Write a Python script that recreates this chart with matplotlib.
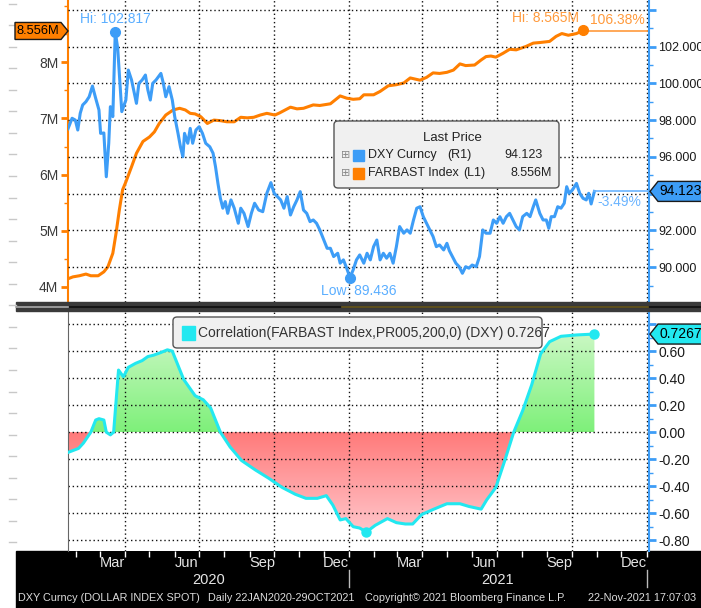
import numpy as np
import pandas as pd
import matplotlib
matplotlib.use('Agg')
import matplotlib.pyplot as plt
import matplotlib.dates as mdates
from matplotlib import font_manager as fm
from matplotlib.colors import LinearSegmentedColormap
from matplotlib.lines import Line2D
from matplotlib.patches import Polygon, Rectangle, FancyBboxPatch
from matplotlib.path import Path
from matplotlib.ticker import MultipleLocator

# values
dxy = [('2020-01-22', 97.53), ('2020-01-27', 98.10), ('2020-01-31', 98.00), ('2020-02-03', 97.46),
       ('2020-02-06', 98.37), ('2020-02-09', 98.82), ('2020-02-13', 99.00), ('2020-02-17', 99.27),
       ('2020-02-21', 99.85), ('2020-02-25', 99.18), ('2020-02-29', 98.55), ('2020-03-02', 97.28),
       ('2020-03-06', 97.30), ('2020-03-09', 94.92), ('2020-03-12', 96.74), ('2020-03-14', 98.73),
       ('2020-03-17', 98.19), ('2020-03-20', 102.817), ('2020-03-23', 101.9), ('2020-03-28', 98.46),
       ('2020-04-02', 99.09), ('2020-04-05', 100.72), ('2020-04-09', 100.18), ('2020-04-15', 98.91),
       ('2020-04-18', 100.00), ('2020-04-22', 100.18), ('2020-04-26', 100.45), ('2020-04-29', 99.64),
       ('2020-05-02', 99.09), ('2020-05-05', 100.00), ('2020-05-09', 100.18), ('2020-05-12', 100.36),
       ('2020-05-15', 100.54), ('2020-05-18', 100.00), ('2020-05-21', 99.27), ('2020-05-25', 99.82),
       ('2020-05-29', 99.09), ('2020-06-01', 98.18), ('2020-06-05', 97.28), ('2020-06-08', 96.55),
       ('2020-06-11', 96.01), ('2020-06-13', 97.28), ('2020-06-17', 96.74), ('2020-06-20', 97.55),
       ('2020-06-23', 96.74), ('2020-06-27', 97.46), ('2020-07-01', 97.64), ('2020-07-05', 97.28),
       ('2020-07-09', 96.74), ('2020-07-14', 96.55), ('2020-07-18', 96.20), ('2020-07-21', 95.47),
       ('2020-07-24', 94.56), ('2020-07-27', 93.75), ('2020-07-30', 93.21), ('2020-08-02', 93.57),
       ('2020-08-05', 92.93), ('2020-08-09', 93.66), ('2020-08-13', 93.21), ('2020-08-18', 92.39),
       ('2020-08-21', 93.21), ('2020-08-25', 92.93), ('2020-08-30', 92.21), ('2020-09-03', 92.93),
       ('2020-09-07', 93.48), ('2020-09-12', 93.11), ('2020-09-17', 93.02), ('2020-09-22', 94.02),
       ('2020-09-27', 94.60), ('2020-10-01', 94.02), ('2020-10-05', 93.84), ('2020-10-09', 93.66),
       ('2020-10-13', 93.21), ('2020-10-17', 93.84), ('2020-10-21', 92.84), ('2020-10-25', 93.29),
       ('2020-10-29', 93.66), ('2020-11-02', 94.11), ('2020-11-06', 93.11), ('2020-11-10', 92.93),
       ('2020-11-14', 92.48), ('2020-11-18', 92.57), ('2020-11-22', 92.39), ('2020-11-26', 92.03),
       ('2020-12-01', 91.48), ('2020-12-05', 91.03), ('2020-12-09', 91.03), ('2020-12-13', 90.58),
       ('2020-12-18', 90.76), ('2020-12-21', 90.22), ('2020-12-25', 90.40), ('2020-12-29', 89.95),
       ('2021-01-02', 89.436), ('2021-01-06', 89.86), ('2021-01-10', 90.40), ('2021-01-14', 90.67),
       ('2021-01-19', 90.22), ('2021-01-23', 90.76), ('2021-01-27', 90.40), ('2021-01-31', 91.12),
       ('2021-02-04', 91.48), ('2021-02-08', 90.40), ('2021-02-12', 90.76), ('2021-02-16', 90.49),
       ('2021-02-20', 90.76), ('2021-02-24', 90.22), ('2021-02-28', 91.12), ('2021-03-04', 92.21),
       ('2021-03-09', 91.85), ('2021-03-13', 92.03), ('2021-03-17', 91.85), ('2021-03-21', 92.57),
       ('2021-03-25', 93.21), ('2021-03-29', 93.29), ('2021-04-02', 92.75), ('2021-04-06', 92.39),
       ('2021-04-10', 92.03), ('2021-04-14', 91.67), ('2021-04-18', 91.12), ('2021-04-22', 91.21),
       ('2021-04-27', 90.94), ('2021-05-01', 91.30), ('2021-05-04', 90.90), ('2021-05-12', 90.22),
       ('2021-05-16', 90.03), ('2021-05-20', 89.67), ('2021-05-24', 90.03), ('2021-05-28', 89.95),
       ('2021-06-01', 90.12), ('2021-06-06', 90.03), ('2021-06-10', 90.58), ('2021-06-14', 92.03),
       ('2021-06-18', 91.85), ('2021-06-23', 91.85), ('2021-06-27', 92.57), ('2021-07-01', 92.39),
       ('2021-07-05', 92.75), ('2021-07-09', 92.39), ('2021-07-13', 92.75), ('2021-07-17', 92.93),
       ('2021-07-21', 92.57), ('2021-07-25', 92.21), ('2021-07-29', 92.03), ('2021-08-02', 92.75),
       ('2021-08-07', 92.93), ('2021-08-11', 92.75), ('2021-08-15', 93.29), ('2021-08-18', 93.66),
       ('2021-08-23', 92.93), ('2021-08-27', 92.57), ('2021-08-31', 92.57), ('2021-09-03', 92.12),
       ('2021-09-06', 92.75), ('2021-09-10', 92.75), ('2021-09-14', 93.29), ('2021-09-18', 93.21),
       ('2021-09-22', 93.48), ('2021-09-25', 94.38), ('2021-09-28', 94.02), ('2021-10-02', 94.20),
       ('2021-10-07', 94.56), ('2021-10-11', 94.02), ('2021-10-15', 93.75), ('2021-10-19', 93.66),
       ('2021-10-22', 94.02), ('2021-10-25', 93.44), ('2021-10-29', 94.123)]

# FARBAST Index, millions
farbast = [('2020-01-22', 4.1458), ('2020-01-28', 4.18), ('2020-02-05', 4.20), ('2020-02-13', 4.23),
           ('2020-02-19', 4.20), ('2020-02-28', 4.20), ('2020-03-06', 4.27), ('2020-03-11', 4.36),
           ('2020-03-17', 4.60), ('2020-03-21', 4.96), ('2020-03-25', 5.37), ('2020-03-29', 5.73),
           ('2020-04-02', 5.87), ('2020-04-09', 6.14), ('2020-04-15', 6.38), ('2020-04-23', 6.59),
           ('2020-05-01', 6.67), ('2020-05-07', 6.76), ('2020-05-13', 6.91), ('2020-05-21', 7.06),
           ('2020-05-30', 7.15), ('2020-06-07', 7.18), ('2020-06-14', 7.15), ('2020-06-20', 7.09),
           ('2020-06-26', 7.08), ('2020-07-03', 7.03), ('2020-07-11', 6.91), ('2020-07-19', 6.97),
           ('2020-07-27', 6.96), ('2020-08-04', 6.94), ('2020-08-13', 6.94), ('2020-08-21', 7.02),
           ('2020-08-29', 7.01), ('2020-09-06', 7.02), ('2020-09-14', 7.06), ('2020-09-22', 7.09),
           ('2020-10-02', 7.06), ('2020-10-08', 7.10), ('2020-10-21', 7.20), ('2020-10-29', 7.17),
           ('2020-11-06', 7.18), ('2020-11-18', 7.24), ('2020-11-26', 7.23), ('2020-12-09', 7.26),
           ('2020-12-21', 7.40), ('2020-12-29', 7.36), ('2021-01-06', 7.34), ('2021-01-14', 7.35),
           ('2021-01-19', 7.42), ('2021-01-31', 7.42), ('2021-02-08', 7.48), ('2021-02-18', 7.58),
           ('2021-02-28', 7.60), ('2021-03-09', 7.63), ('2021-03-17', 7.72), ('2021-03-29', 7.68),
           ('2021-04-06', 7.73), ('2021-04-14', 7.81), ('2021-04-22', 7.80), ('2021-05-01', 7.82),
           ('2021-05-09', 7.86), ('2021-05-17', 7.97), ('2021-05-24', 7.94), ('2021-06-04', 7.95),
           ('2021-06-12', 8.04), ('2021-06-18', 8.10), ('2021-06-24', 8.11), ('2021-06-30', 8.09),
           ('2021-07-09', 8.16), ('2021-07-17', 8.23), ('2021-07-25', 8.22), ('2021-08-06', 8.28),
           ('2021-08-15', 8.34), ('2021-08-23', 8.35), ('2021-09-04', 8.37), ('2021-09-12', 8.46),
           ('2021-09-19', 8.51), ('2021-09-27', 8.48), ('2021-10-07', 8.51), ('2021-10-15', 8.565),
           ('2021-10-19', 8.556)]

corr = [('2020-01-22', -0.15), ('2020-02-04', -0.12), ('2020-02-10', -0.08), ('2020-02-19', 0.00),
        ('2020-02-25', 0.09), ('2020-02-29', 0.10), ('2020-03-06', 0.09), ('2020-03-09', 0.00),
        ('2020-03-14', -0.02), ('2020-03-18', 0.00), ('2020-03-24', 0.46), ('2020-03-30', 0.41),
        ('2020-04-05', 0.48), ('2020-04-14', 0.51), ('2020-04-22', 0.53), ('2020-04-29', 0.56),
        ('2020-05-06', 0.57), ('2020-05-15', 0.59), ('2020-05-23', 0.61), ('2020-05-29', 0.60),
        ('2020-06-04', 0.51), ('2020-06-12', 0.39), ('2020-06-26', 0.27), ('2020-07-06', 0.24),
        ('2020-07-15', 0.18), ('2020-07-21', 0.09), ('2020-07-27', 0.00), ('2020-08-08', -0.11),
        ('2020-08-22', -0.21), ('2020-09-08', -0.28), ('2020-09-24', -0.34), ('2020-10-11', -0.41),
        ('2020-10-27', -0.46), ('2020-11-09', -0.49), ('2020-11-23', -0.49), ('2020-12-04', -0.47),
        ('2020-12-12', -0.54), ('2020-12-21', -0.65), ('2020-12-28', -0.64), ('2021-01-06', -0.70),
        ('2021-01-14', -0.71), ('2021-01-22', -0.74), ('2021-02-02', -0.69), ('2021-02-17', -0.64),
        ('2021-02-28', -0.67), ('2021-03-11', -0.68), ('2021-03-20', -0.68), ('2021-03-31', -0.61),
        ('2021-04-15', -0.57), ('2021-05-01', -0.53), ('2021-05-17', -0.53), ('2021-05-28', -0.55),
        ('2021-06-12', -0.57), ('2021-06-19', -0.50), ('2021-06-30', -0.41), ('2021-07-11', -0.21),
        ('2021-07-22', 0.00), ('2021-08-02', 0.16), ('2021-08-13', 0.35), ('2021-08-24', 0.58),
        ('2021-09-04', 0.67), ('2021-09-18', 0.71), ('2021-10-07', 0.72), ('2021-10-29', 0.7267)]

dxy_ticks = [90, 92, 94, 96, 98, 100, 102, 104]
far_ticks = [4, 5, 6, 7, 8]
corr_ticks = [-0.8, -0.6, -0.4, -0.2, 0.0, 0.2, 0.4, 0.6, 0.8]
x_range = ('2020-01-22', '2022-01-04')
footer = [(18, 'DXY Curncy (DOLLAR INDEX SPOT)'), (208, 'Daily 22JAN2020-29OCT2021'),
          (365, 'Copyright\u00a9 2021 Bloomberg Finance L.P.'), (588, '22-Nov-2021 17:07:03')]

BLUE = '#3d9df7'
ORANGE = '#ff7f00'
CYAN = '#22e8f0'

names = {f.name for f in fm.fontManager.ttflist}
font = next((f for f in ['Liberation Sans Narrow', 'Liberation Sans', 'Open Sans'] if f in names), 'DejaVu Sans')
plt.rcParams['font.family'] = [font, 'DejaVu Sans']

W, H = 701, 608
fig = plt.figure(figsize=(W / 100, H / 100), dpi=100)


def fbox(x0, y0, x1, y1):
    return [x0 / W, 1 - y1 / H, (x1 - x0) / W, (y1 - y0) / H]


def fp(x, y):
    return (x / W, 1 - y / H)


def py_of(ax, v):
    return H - ax.transData.transform((ax.get_xlim()[0], v))[1] * H / fig.bbox.height


def series(pairs):
    d = mdates.date2num(pd.to_datetime([p[0] for p in pairs]))
    return d, np.array([p[1] for p in pairs])


dx, dv = series(dxy)
fx_, fv = series(farbast)
cx, cv = series(corr)
x0, x1 = mdates.date2num(pd.to_datetime(list(x_range)))
quarters = mdates.date2num(pd.date_range('2020-04-01', '2022-01-01', freq='QS'))
grid_kw = dict(color='#111111', linestyle=(0, (1, 2)), linewidth=1)

# ---------------- top panel ----------------
ax1 = fig.add_axes(fbox(68, 0, 649, 302))
ax1r = ax1.twinx()
ax2 = fig.add_axes(fbox(68, 312, 649, 551), sharex=ax1)

ax1.set_xlim(x0, x1)
ax1.set_ylim(3.733, 9.107)
ax1r.set_ylim(88.11, 104.53)

ax1.plot(fx_, fv, color=ORANGE, lw=2.2, solid_capstyle='round', zorder=3)
ax1r.plot(dx, dv, color=BLUE, lw=2.2, solid_joinstyle='round', zorder=3)

ax1.set_xticks(quarters)
ax1.xaxis.set_minor_locator(mdates.MonthLocator())
ax1.tick_params(axis='x', which='both', length=0, labelbottom=False)
ax1.grid(axis='x', **grid_kw)
ax1r.grid(axis='y', **grid_kw)

ax1.set_yticks(far_ticks)
ax1.set_yticklabels([f'{t}M' for t in far_ticks])
ax1.yaxis.set_minor_locator(MultipleLocator(0.5))
ax1.tick_params(axis='y', which='major', colors=ORANGE, labelcolor='#3a3a3a', length=5, width=2,
                labelsize=10, pad=2)
ax1.tick_params(axis='y', which='minor', colors=ORANGE, length=3, width=1)

ax1r.set_yticks(dxy_ticks)
ax1r.set_yticklabels(['' if t in (94, 104) else f'{t:.3f}' for t in dxy_ticks])
ax1r.yaxis.set_minor_locator(MultipleLocator(1))
ax1r.tick_params(axis='y', which='major', colors=BLUE, labelcolor='#1a1a1a', length=5, width=2,
                 labelsize=9, pad=1.5)
ax1r.tick_params(axis='y', which='minor', colors=BLUE, length=3, width=1)

for s in ('top', 'bottom', 'right'):
    ax1.spines[s].set_visible(False)
for s in ('top', 'bottom', 'left'):
    ax1r.spines[s].set_visible(False)
ax1.spines['left'].set_color(ORANGE)
ax1.spines['left'].set_linewidth(1.5)
ax1r.spines['right'].set_color(BLUE)
ax1r.spines['right'].set_linewidth(1.5)

# hi / low markers and last-value lines
i_hi, i_lo = dv.argmax(), dv.argmin()
ax1r.plot(dx[[i_hi, i_lo]], dv[[i_hi, i_lo]], 'o', color=BLUE, ms=7, zorder=4)
ax1r.annotate(f'Hi: {dv[i_hi]:.3f}', (dx[i_hi], dv[i_hi]), xytext=(0, 13), textcoords='offset pixels',
              ha='center', va='center', color='#5aaeff', fontsize=10)
ax1r.annotate(f'Low: {dv[i_lo]:.3f}', (dx[i_lo], dv[i_lo]), xytext=(9, -13), textcoords='offset pixels',
              ha='center', va='center', color='#5aaeff', fontsize=10)
f_hi = fv.argmax()
ax1.plot(fx_[f_hi], fv[f_hi], 'o', color=ORANGE, ms=7, zorder=4)
ax1.annotate(f'Hi: {fv[f_hi]:.3f}M', (fx_[f_hi], fv[f_hi]), xytext=(-4, 12), textcoords='offset pixels',
             ha='right', va='center', color='#ff9a3c', fontsize=10)
ax1.plot([fx_[-1], x1], [fv[-1], fv[-1]], color='#ff9a3c', lw=1.2, zorder=3)
ax1r.plot([dx[-1], x1], [dv[-1], dv[-1]], color='#6ab4ff', lw=1.2, zorder=3)

# ---------------- bottom panel ----------------
ax2.set_ylim(-0.88, 0.89)
green = LinearSegmentedColormap.from_list('g', ['#7ef07a', '#cdf8c6'])
red = LinearSegmentedColormap.from_list('r', ['#ffc8cd', '#ff7a7a'])
grad = np.linspace(0, 1, 256).reshape(-1, 1)
for mask, cmap, ext in ((cv >= 0, green, (0, 0.75)), (cv <= 0, red, (-0.76, 0))):
    coll = ax2.fill_between(cx, cv, 0, where=mask, interpolate=True, color='none', lw=0)
    path = Path.make_compound_path(*coll.get_paths())
    im = ax2.imshow(grad, cmap=cmap, extent=(cx[0], cx[-1], ext[0], ext[1]), origin='lower',
                    aspect='auto', zorder=1)
    im.set_clip_path(path, transform=ax2.transData)
ax2.plot(cx, cv, color=CYAN, lw=2.2, zorder=3)
c_lo = cv.argmin()
ax2.plot(cx[[c_lo, -1]], cv[[c_lo, -1]], 'o', color=CYAN, ms=6.5, zorder=4)
ax2.set_xlim(x0, x1)
ax2.set_ylim(-0.88, 0.89)

ax2.grid(axis='both', which='major', **grid_kw)
ax2.yaxis.tick_right()
ax2.set_yticks(corr_ticks)
ax2.set_yticklabels(['' if t > 0.7 else f'{t:.2f}' for t in corr_ticks])
ax2.yaxis.set_minor_locator(MultipleLocator(0.1))
ax2.tick_params(axis='y', which='major', colors=BLUE, labelcolor='#1a1a1a', length=5, width=2,
                labelsize=10, pad=2)
ax2.tick_params(axis='y', which='minor', colors=BLUE, length=3, width=1)
ax2.tick_params(axis='x', which='both', colors='white', length=4, width=1, labelbottom=False)
for s in ('top', 'bottom'):
    ax2.spines[s].set_visible(False)
ax2.spines['left'].set_color('#666666')
ax2.spines['right'].set_color(BLUE)
ax2.spines['right'].set_linewidth(1.5)

# ---------------- time axis strip ----------------
fig.add_artist(Rectangle(fp(16, 608), (W - 16) / W, 57 / H, transform=fig.transFigure,
                         color='black', zorder=-1))
xt = ax2.get_xaxis_transform()
for d in pd.date_range('2020-03-01', '2021-12-01', freq='3MS'):
    ax2.text(mdates.date2num(d + pd.Timedelta(days=15)), -12 / 239, d.strftime('%b'), transform=xt,
             ha='center', va='center', color='#e6e6e6', fontsize=10.5, clip_on=False)
jan = mdates.date2num(pd.to_datetime(['2021-01-01', '2022-01-01']))
for lo, hi, yr in ((x0, jan[0], '2020'), (jan[0], jan[1], '2021')):
    ax2.text((lo + hi) / 2, -29 / 239, yr, transform=xt, ha='center', va='center',
             color='#e6e6e6', fontsize=10.5, clip_on=False)
for j in jan:
    ax2.plot([j, j], [-19 / 239, -36 / 239], transform=xt, color='#bbbbbb', lw=1, clip_on=False)
for px, txt in footer:
    fig.text(px / W, 1 - 598 / H, txt, color='#dcdcdc', fontsize=7.8, va='center', ha='left')

# panel divider and left margin dashes
fig.add_artist(Rectangle(fp(16, 311), (W - 16) / W, 9 / H, transform=fig.transFigure,
                         color='#3a3a3a', zorder=2))
fig.add_artist(Line2D([16 / W, 68 / W], [1 - 307 / H] * 2, color='#aaaaaa', lw=1.2, zorder=3))
fig.add_artist(Line2D([70 / W, W / W], [1 - 307 / H] * 2, color='#151515', lw=1.5, zorder=3))
fig.add_artist(Line2D([342 / W, 648 / W], [1 - 307 / H] * 2, color='#6b5a1e', lw=1.2, zorder=3))
for yy in np.arange(3.6, 560, 21.55):
    fig.add_artist(Line2D([9 / W, 16 / W], [1 - yy / H] * 2, color='#c8c8c8', lw=1))


# ---------------- value tags ----------------
def right_tag(py, text, fc):
    pts = [fp(650, py), fp(658, py - 10), fp(W + 2, py - 10), fp(W + 2, py + 10), fp(658, py + 10)]
    fig.add_artist(Polygon(pts, closed=True, transform=fig.transFigure, fc=fc, ec='#1a1a1a',
                           lw=1, zorder=5))
    fig.text(*fp(659, py), text, ha='left', va='center', fontsize=10, color='black', zorder=6)


right_tag(py_of(ax1r, dv[-1]), f'{dv[-1]:.3f}', BLUE)
right_tag(py_of(ax2, cv[-1]), f'{cv[-1]:.4f}', CYAN)
pyf = py_of(ax1, fv[-1])
pts = [fp(15, pyf - 8.5), fp(61, pyf - 8.5), fp(68, pyf), fp(61, pyf + 8.5), fp(15, pyf + 8.5)]
fig.add_artist(Polygon(pts, closed=True, transform=fig.transFigure, fc=ORANGE, ec='#1a1a1a',
                       lw=1, zorder=5))
fig.text(*fp(38, pyf), f'{fv[-1]:.3f}M', ha='center', va='center', fontsize=9.3, color='black', zorder=6)

fig.text(*fp(645, pyf - 11), f'{(fv[-1] / fv[0] - 1) * 100:.2f}%', ha='right', va='center',
         color='#ff9a3c', fontsize=10)
pyd = py_of(ax1r, dv[-1])
fig.text(*fp(641, pyd + 11), f'{(dv[-1] / dv[0] - 1) * 100:.2f}%', ha='right', va='center',
         color='#6ab4ff', fontsize=10)

# ---------------- legends ----------------
fig.add_artist(FancyBboxPatch(fp(334, 188), 225 / W, 67 / H, boxstyle='round,pad=0,rounding_size=0.006',
                              transform=fig.transFigure, fc='#f0f0f0', ec='#555555', lw=1, zorder=5))
fig.text(*fp(452, 138), 'Last Price', ha='center', va='center', fontsize=9.5, color='#222222', zorder=6)
rows = [(155, 'DXY Curncy', '(R1)', 447, f'{dv[-1]:.3f}', 543, BLUE),
        (173, 'FARBAST Index', '(L1)', 463, f'{fv[-1]:.3f}M', 552, ORANGE)]
for yy, name, tag, tx, val, vx, col in rows:
    fig.text(*fp(346, yy), '\u229e', ha='center', va='center', fontsize=8, color='#8a8a8a',
             family='DejaVu Sans', zorder=6)
    fig.add_artist(Rectangle(fp(353, yy + 5.5), 11 / W, 11 / H, transform=fig.transFigure,
                             color=col, zorder=6))
    fig.text(*fp(368, yy), name, ha='left', va='center', fontsize=9, color='#222222', zorder=6)
    fig.text(*fp(tx, yy), tag, ha='left', va='center', fontsize=9, color='#222222', zorder=6)
    fig.text(*fp(vx, yy), val, ha='right', va='center', fontsize=9, color='#222222', zorder=6)

fig.add_artist(FancyBboxPatch(fp(173, 348), 369 / W, 31 / H, boxstyle='round,pad=0,rounding_size=0.006',
                              transform=fig.transFigure, fc='#f0f0f0', ec='#555555', lw=1, zorder=5))
fig.add_artist(Rectangle(fp(182, 340), 13 / W, 14 / H, transform=fig.transFigure, color=CYAN, zorder=6))
fig.text(*fp(198, 333), f'Correlation(FARBAST Index,PR005,200,0) (DXY) {cv[-1]:.4f}', ha='left',
         va='center', fontsize=10, color='#333333', zorder=6)

fig.savefig('out.png', dpi=100)
